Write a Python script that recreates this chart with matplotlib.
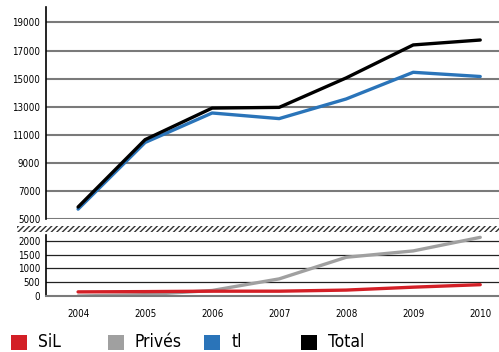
import matplotlib
matplotlib.use("Agg")
import matplotlib.pyplot as plt
from matplotlib.patches import Rectangle

plt.rcParams['font.family'] = ['DejaVu Sans']
plt.rcParams['font.stretch'] = 'condensed'

years = [2004, 2005, 2006, 2007, 2008, 2009, 2010]
total = [5850, 10650, 12900, 12950, 15050, 17400, 17750]
tl = [5700, 10450, 12550, 12150, 13550, 15450, 15150]
prives = [0, 50, 200, 620, 1400, 1630, 2120]
sil = [150, 160, 175, 175, 215, 320, 410]

upper_ticks = [5000, 7000, 9000, 11000, 13000, 15000, 17000, 19000]
lower_ticks = [0, 500, 1000, 1500, 2000]

c_sil = '#d31f26'
c_prives = '#a0a0a0'
c_tl = '#2a74b9'
c_total = '#000000'

fig = plt.figure(figsize=(4.99, 3.52), dpi=100)
ax1 = fig.add_axes([0.092, 0.378, 0.908, 0.602])
ax2 = fig.add_axes([0.092, 0.159, 0.908, 0.173])

xlim = (2003.52, 2010.28)

for ax in (ax1, ax2):
    ax.set_xlim(*xlim)
    for s in ('top', 'right'):
        ax.spines[s].set_visible(False)
    ax.spines['left'].set_linewidth(1.2)
    ax.tick_params(axis='y', length=0, labelsize=7, pad=4)
    ax.tick_params(axis='x', length=0)
    ax.set_axisbelow(True)

ax1.plot(years, total, color=c_total, lw=2.4, solid_capstyle='round', zorder=3)
ax1.plot(years, tl, color=c_tl, lw=2.4, solid_capstyle='round', zorder=2)
ax1.set_ylim(5000, 20100)
ax1.set_yticks(upper_ticks)
ax1.set_xticks([])
ax1.spines['bottom'].set_visible(False)
ax1.yaxis.grid(True, color='#7a7a7a', lw=1.5)

ax2.plot(years, prives, color=c_prives, lw=2.4, solid_capstyle='round', zorder=2)
ax2.plot(years, sil, color=c_sil, lw=2.4, solid_capstyle='round', zorder=3)
ax2.set_ylim(0, 2200)
ax2.set_yticks(lower_ticks)
ax2.set_xticks(years)
ax2.tick_params(axis='x', labelsize=7, pad=9)
ax2.spines['bottom'].set_color('#7a7a7a')
ax2.spines['bottom'].set_linewidth(1.5)
ax2.yaxis.grid(True, color='#222222', lw=0.9)

# axis break band
fig.patches.append(Rectangle((0.034, 0.341), 0.966, 0.018, transform=fig.transFigure,
                             facecolor='white', edgecolor='#333333', hatch='//////',
                             lw=0))

# legend
entries = [('SiL', c_sil, 11, 38), ('Privés', c_prives, 108, 135),
           ('tl', c_tl, 204, 232), ('Total', c_total, 301, 328)]
for lab, col, xs, xt in entries:
    fig.patches.append(Rectangle((xs / 499, 2 / 352), 16 / 499, 15 / 352,
                                 transform=fig.transFigure, facecolor=col, lw=0))
    fig.text(xt / 499, 1 - 347 / 352, lab, fontsize=12.5, va='baseline', ha='left')

fig.savefig('out.png', dpi=100)
